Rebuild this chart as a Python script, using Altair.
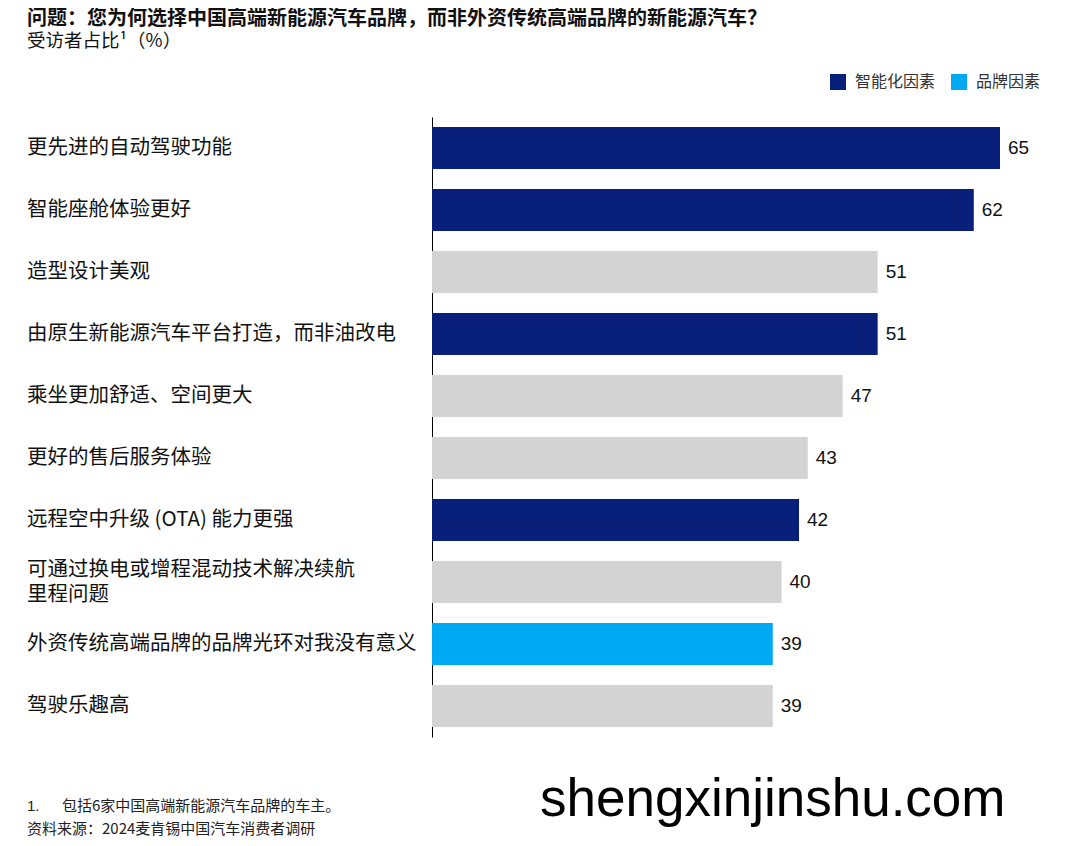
import altair as alt
import pandas as pd

categories = [
    "更先进的自动驾驶功能",
    "智能座舱体验更好",
    "造型设计美观",
    "由原生新能源汽车平台打造，而非油改电",
    "乘坐更加舒适、空间更大",
    "更好的售后服务体验",
    "远程空中升级 (OTA) 能力更强",
    "可通过换电或增程混动技术解决续航\n里程问题",
    "外资传统高端品牌的品牌光环对我没有意义",
    "驾驶乐趣高",
]
values = [65, 62, 51, 51, 47, 43, 42, 40, 39, 39]
groups = ["智能化因素", "智能化因素", "其他", "智能化因素", "其他",
          "其他", "智能化因素", "其他", "品牌因素", "其他"]

group_domain = ["智能化因素", "品牌因素", "其他"]
group_colors = ["#08207A", "#00A9F4", "#D3D3D3"]

title_text = "问题：您为何选择中国高端新能源汽车品牌，而非外资传统高端品牌的新能源汽车？"
subtitle_text = "受访者占比¹（%）"
note1_num = "1."
note1_text = "包括6家中国高端新能源汽车品牌的车主。"
note2_text = "资料来源：2024麦肯锡中国汽车消费者调研"
watermark = "shengxinjinshu.com"

df = pd.DataFrame({"cat": categories, "value": values, "group": groups})
df["multi"] = df["cat"].str.contains("\n")

FONT = "Noto Sans CJK SC"

y_enc = alt.Y(
    "cat:N",
    sort=categories,
    scale=alt.Scale(paddingInner=0.32, paddingOuter=0.16),
    axis=alt.Axis(labels=False, ticks=False, title=None, grid=False,
                  domainColor="#000000", domainWidth=1),
)
x_enc = alt.X("value:Q", scale=alt.Scale(domain=[0, 65], nice=False), axis=None)

base = alt.Chart(df)

bars = base.mark_bar().encode(
    x=x_enc,
    y=y_enc,
    color=alt.Color(
        "group:N",
        scale=alt.Scale(domain=group_domain, range=group_colors),
        legend=alt.Legend(
            values=["智能化因素", "品牌因素"],
            title=None,
            orient="none",
            legendX=398,
            legendY=-43,
            direction="horizontal",
            symbolType="square",
            symbolSize=256,
            symbolStrokeWidth=0,
            symbolOpacity=1,
            labelFontSize=16,
            labelFont=FONT,
            labelColor="#333333",
            labelOffset=9,
            columnPadding=15,
        ),
    ),
)

value_text = base.mark_text(
    align="left", baseline="middle", dx=8, fontSize=19,
    font="Liberation Sans", color="#111111",
).encode(x=x_enc, y=alt.Y("cat:N", sort=categories), text=alt.Text("value:Q"))

cat_single = base.transform_filter("!datum.multi").mark_text(
    align="left", baseline="middle", fontSize=20.5, font=FONT,
    color="#111111",
).encode(x=alt.value(-405), y=alt.Y("cat:N", sort=categories), text="cat:N")

cat_multi = base.transform_filter("datum.multi").mark_text(
    align="left", baseline="middle", fontSize=20.5, font=FONT,
    color="#111111", lineBreak="\n", lineHeight=25, dy=-12.5,
).encode(x=alt.value(-405), y=alt.Y("cat:N", sort=categories), text="cat:N")

one = pd.DataFrame({"a": [0]})


def label(text, x, y, size, weight="normal", font=FONT, color="#111111",
          baseline="middle"):
    return alt.Chart(one).mark_text(
        text=text, align="left", baseline=baseline, fontSize=size,
        fontWeight=weight, font=font, color=color,
    ).encode(x=alt.value(x), y=alt.value(y))


annotations = [
    label(title_text, -405, -98, 20, "bold"),
    label(subtitle_text, -405, -76, 18.5),
    label(note1_num, -405, 689, 15, font="Liberation Sans", color="#222222"),
    label(note1_text, -370, 689, 15, color="#222222"),
    label(note2_text, -405, 712, 15, color="#222222"),
    label(watermark, 108, 683, 53, font="Liberation Sans", color="#000000"),
]

chart = alt.layer(bars, value_text, cat_single, cat_multi, *annotations).properties(
    width=568,
    height=620,
    autosize=alt.AutoSizeParams(type="none"),
    padding={"left": 424, "top": 109, "right": 70, "bottom": 101},
).configure(font=FONT, background="white").configure_view(stroke=None)

chart.save("out.html", embed_options={"renderer": "svg", "actions": False})
